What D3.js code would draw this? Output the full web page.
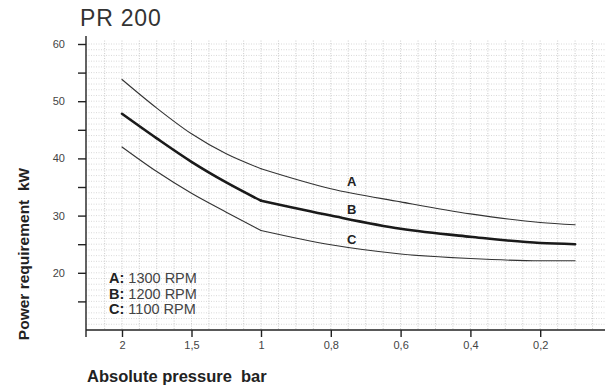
<!DOCTYPE html>
<html lang="en">
<head>
<meta charset="UTF-8">
<title>PR 200</title>
<script src="https://d3js.org/d3.v7.min.js"></script>
<style>
  body { margin: 0; background: #fff; }
  svg { display: block; font-family: "Liberation Sans", Arial, sans-serif; }
  .grid line { stroke: #b4b4b4; stroke-width: 0.7; stroke-dasharray: 1,1.5; }
  .grid line.h { stroke: #c8c8c8; }
  .axis path, .axis line { stroke: #222; stroke-width: 1.4; }
  .axis text { font-size: 11px; fill: #444; }
  .curve { fill: none; stroke-linecap: round; stroke-linejoin: round; }
</style>
</head>
<body>
<div id="chart"></div>
<script>
// absolute pressure (bar) and power requirement (kW) for each speed
const pressure = [2, 1.75, 1.5, 1.25, 1, 0.8, 0.6, 0.4, 0.2, 0.1];
const powerA = [53.8, 48.8, 44.3, 40.8, 38.2, 34.7, 32.4, 30.3, 28.8, 28.4];
const powerB = [47.8, 43.5, 39.4, 35.8, 32.6, 30.0, 27.7, 26.3, 25.2, 25.0];
const powerC = [42.0, 37.7, 33.9, 30.6, 27.4, 24.9, 23.3, 22.5, 22.1, 22.1];
const curveNames = ["A", "B", "C"];
const rpm = ["1300 RPM", "1200 RPM", "1100 RPM"];
const xTicks = [2, 1.5, 1, 0.8, 0.6, 0.4, 0.2];
const yTicks = [15, 20, 25, 30, 35, 40, 45, 50, 55, 60];

const width = 605, height = 387;

const svg = d3.select("#chart").append("svg")
    .attr("width", width)
    .attr("height", height);

// the pressure axis is stretched below 1 bar
const x = d3.scaleLinear().domain([2, 1, 0]).range([122, 261, 610]);
const y = d3.scaleLinear().domain([10, 60]).range([330, 44]);
const x0 = 86, xEnd = width;

// graph paper
const vGrid = d3.range(2.125, 1, -0.125).concat(d3.range(1, -0.001, -0.05));
const hGrid = d3.range(11, 61, 1);
const grid = svg.append("g").attr("class", "grid");
grid.selectAll(".h").data(hGrid).enter().append("line")
    .attr("class", "h")
    .attr("x1", x0).attr("x2", xEnd)
    .attr("y1", d => y(d)).attr("y2", d => y(d));
grid.selectAll(".v").data(vGrid).enter().append("line")
    .attr("class", "v")
    .attr("x1", d => x(d)).attr("x2", d => x(d))
    .attr("y1", y(60.6)).attr("y2", y(10));

// axes
const fmt = d => String(d).replace(".", ",");
svg.append("g").attr("class", "axis")
    .attr("transform", `translate(0,${y(10)})`)
    .call(d3.axisBottom(x).tickValues(xTicks).tickFormat(fmt).tickSize(7).tickPadding(4).tickSizeOuter(0))
    .call(g => g.select(".domain").attr("d", `M${x0},0H${xEnd}`));

svg.append("g").attr("class", "axis")
    .attr("transform", `translate(${x0},0)`)
    .call(d3.axisLeft(y).tickValues(yTicks).tickFormat(d => d % 10 === 0 ? d : "").tickSize(8).tickPadding(13).tickSizeOuter(0))
    .call(g => g.select(".domain").attr("d", `M0,36V337`));

// curves, drawn in two pieces so the bend at 1 bar stays sharp
const series = [powerA, powerB, powerC];
const line = d3.line().x(d => x(d[0])).y(d => y(d[1])).curve(d3.curveMonotoneX);
series.forEach((vals, i) => {
  const pts = pressure.map((p, j) => [p, vals[j]]);
  const parts = [pts.filter(d => d[0] >= 1), pts.filter(d => d[0] <= 1)];
  parts.forEach(part => {
    svg.append("path")
        .attr("class", "curve")
        .attr("d", line(part.slice().reverse()))
        .attr("stroke", i === 1 ? "#1a1a1a" : "#333")
        .attr("stroke-width", i === 1 ? 2.6 : 1.1);
  });
});

// curve letters near 0.74 bar
const labelAt = 0.74;
const labelOffset = [6.5, 6, 4];
series.forEach((vals, i) => {
  const v = vals[5] + (vals[6] - vals[5]) * (0.8 - labelAt) / 0.2;
  svg.append("text")
      .attr("x", x(labelAt))
      .attr("y", y(v) - labelOffset[i])
      .attr("text-anchor", "middle")
      .attr("font-size", 13)
      .attr("font-weight", "bold")
      .attr("fill", "#222")
      .text(curveNames[i]);
});

// legend
const legend = svg.append("g").attr("transform", "translate(109,283)");
curveNames.forEach((n, i) => {
  const t = legend.append("text").attr("y", i * 15.5).attr("font-size", 14.5).attr("fill", "#444");
  t.append("tspan").attr("font-weight", "bold").attr("fill", "#222").text(n + ":");
  t.append("tspan").text(" " + rpm[i]);
});

// titles
svg.append("text")
    .attr("x", 80).attr("y", 26)
    .attr("font-size", 23).attr("fill", "#333")
    .attr("letter-spacing", 0.8)
    .text("PR 200");

svg.append("text")
    .attr("transform", "translate(29,254) rotate(-90)")
    .attr("text-anchor", "middle")
    .attr("font-size", 15.5).attr("font-weight", "bold").attr("fill", "#222")
    .attr("xml:space", "preserve")
    .text("Power requirement  kW");

svg.append("text")
    .attr("x", 87).attr("y", 382)
    .attr("font-size", 16.5).attr("font-weight", "bold").attr("fill", "#222")
    .attr("xml:space", "preserve")
    .text("Absolute pressure  bar");
</script>
</body>
</html>
